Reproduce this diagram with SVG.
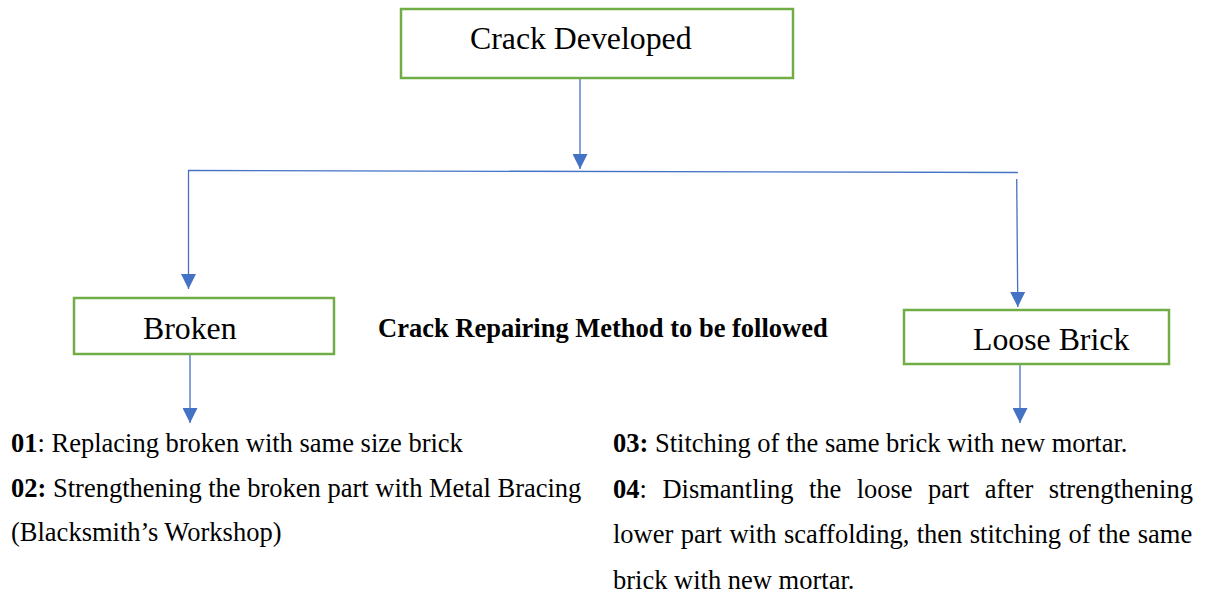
<svg xmlns="http://www.w3.org/2000/svg" width="1207" height="596" viewBox="0 0 1207 596">
<style>
.box{fill:#fff;stroke:#70AD47;stroke-width:2.5}
.lbl{font-family:"Liberation Serif","Times New Roman",serif;font-size:31.8px;fill:#000}
.body{font-family:"Liberation Serif","Times New Roman",serif;font-size:26.5px;fill:#000}
.b{font-weight:bold}
.con{stroke:#4472C4;stroke-width:1.3;fill:none}
.arr{marker-end:url(#ah)}
</style>
<defs>
<marker id="ah" viewBox="0 0 10 10" refX="10" refY="5" markerUnits="userSpaceOnUse" markerWidth="15" markerHeight="15" orient="auto">
<path d="M0,0 L10,5 L0,10 z" fill="#4472C4"/>
</marker>
</defs>
<rect width="1207" height="596" fill="#fff"/>
<g id="connectors">
<line class="con arr" x1="580" y1="79" x2="580" y2="169"/>
<line class="con" x1="188" y1="170.5" x2="1018" y2="172.5"/>
<line class="con arr" x1="188.5" y1="170.5" x2="188.5" y2="289"/>
<line class="con arr" x1="1016.7" y1="179" x2="1017.8" y2="307"/>
<line class="con arr" x1="190" y1="355" x2="190" y2="423"/>
<line class="con arr" x1="1020" y1="365" x2="1020" y2="423"/>
</g>
<g id="crack-developed">
<rect class="box" x="401" y="9" width="392" height="69"/>
<text class="lbl" x="470" y="49">Crack Developed</text>
</g>
<g id="broken">
<rect class="box" x="74" y="298" width="260" height="56"/>
<text class="lbl" x="143" y="339">Broken</text>
</g>
<g id="loose-brick">
<rect class="box" x="904" y="310" width="265" height="54"/>
<text class="lbl" x="973" y="350">Loose Brick</text>
</g>
<g id="title">
<text class="body b" x="378" y="337">Crack Repairing Method to be followed</text>
</g>
<g id="broken-methods">
<text class="body" x="11" y="452"><tspan class="b">01</tspan>: Replacing broken with same size brick</text>
<text class="body" x="11" y="497"><tspan class="b">02:</tspan> Strengthening the broken part with Metal Bracing</text>
<text class="body" x="11" y="541">(Blacksmith’s Workshop)</text>
</g>
<g id="loose-methods">
<text class="body" x="613" y="452"><tspan class="b">03:</tspan> Stitching of the same brick with new mortar.</text>
<text class="body" x="613" y="498"><tspan class="b">04</tspan>:<tspan x="662.4">Dismantling</tspan><tspan x="808.9">the</tspan><tspan x="856.7">loose</tspan><tspan x="928.1">part</tspan><tspan x="984.7">after</tspan><tspan x="1048.7">strengthening</tspan></text>
<text class="body" x="613" y="543" word-spacing="0.8">lower part with scaffolding, then stitching of the same</text>
<text class="body" x="613" y="589">brick with new mortar.</text>
</g>
</svg>
